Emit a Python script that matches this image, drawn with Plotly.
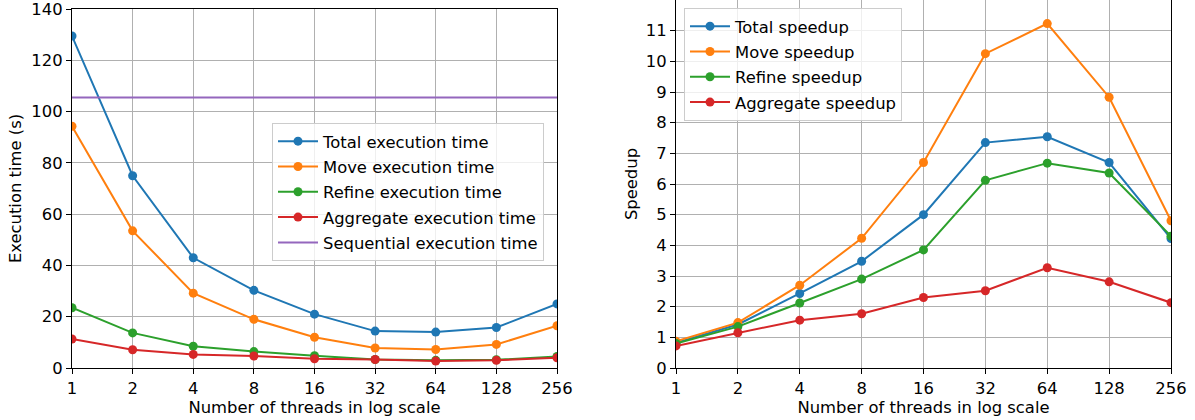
import math
import plotly.graph_objects as go

# Thread counts (log2 spaced)
threads = [1, 2, 4, 8, 16, 32, 64, 128, 256]
thread_labels = ["1", "2", "4", "8", "16", "32", "64", "128", "256"]

# Execution times in seconds
total_time = [129.5, 75.0, 43.0, 30.3, 21.0, 14.4, 14.0, 15.8, 25.0]
move_time = [94.3, 53.5, 29.2, 19.0, 12.0, 7.8, 7.2, 9.2, 16.5]
refine_time = [23.5, 13.7, 8.5, 6.4, 4.8, 3.3, 3.0, 3.2, 4.5]
aggregate_time = [11.3, 7.1, 5.3, 4.7, 3.6, 3.3, 2.7, 3.0, 4.0]
sequential_time = [105.5] * len(threads)

# Speedups relative to the sequential run
total_speedup = [0.82, 1.42, 2.43, 3.48, 5.0, 7.35, 7.54, 6.7, 4.22]
move_speedup = [0.87, 1.48, 2.7, 4.23, 6.7, 10.25, 11.23, 8.83, 4.8]
refine_speedup = [0.8, 1.35, 2.12, 2.9, 3.85, 6.12, 6.68, 6.36, 4.3]
aggregate_speedup = [0.72, 1.15, 1.56, 1.77, 2.3, 2.52, 3.27, 2.81, 2.13]

time_ticks = [0, 20, 40, 60, 80, 100, 120, 140]
speedup_ticks = list(range(0, 12))

BLUE, ORANGE, GREEN, RED, PURPLE = "#1f77b4", "#ff7f0e", "#2ca02c", "#d62728", "#9467bd"
FONT = "DejaVu Sans"
FS = 16.4
W, H = 1195, 420

fig = go.Figure()


def add_line(x, y, name, color, xa, ya, legend, markers=True):
    fig.add_trace(go.Scatter(
        x=x, y=y, name=name,
        mode="lines+markers" if markers else "lines",
        line=dict(color=color, width=2),
        marker=dict(size=9, color=color),
        xaxis=xa, yaxis=ya, legend=legend, legendgroup=name,
    ))


add_line(threads, total_time, "Total execution time", BLUE, "x", "y", "legend")
add_line(threads, move_time, "Move execution time", ORANGE, "x", "y", "legend")
add_line(threads, refine_time, "Refine execution time", GREEN, "x", "y", "legend")
add_line(threads, aggregate_time, "Aggregate execution time", RED, "x", "y", "legend")
add_line(threads, sequential_time, "Sequential execution time", PURPLE, "x", "y", "legend", markers=False)

add_line(threads, total_speedup, "Total speedup", BLUE, "x2", "y2", "legend2")
add_line(threads, move_speedup, "Move speedup", ORANGE, "x2", "y2", "legend2")
add_line(threads, refine_speedup, "Refine speedup", GREEN, "x2", "y2", "legend2")
add_line(threads, aggregate_speedup, "Aggregate speedup", RED, "x2", "y2", "legend2")

text_font = dict(family=FONT, size=FS, color="black")

axis_common = dict(
    automargin=False,
    showline=True, linecolor="black", linewidth=1.1, mirror=True,
    ticks="outside", ticklen=5, tickwidth=1.1, tickcolor="black",
    showgrid=True, gridcolor="#b0b0b0", gridwidth=1.1,
    zeroline=False,
    tickfont=text_font,
    ticklabeloverflow="allow",
)

xaxis_common = dict(
    axis_common, type="log", range=[0, math.log10(256)],
    tickvals=threads, ticktext=thread_labels,
    title=dict(text="Number of threads in log scale", font=text_font, standoff=1),
)

legend_common = dict(
    xanchor="left", yanchor="top",
    bgcolor="rgba(255,255,255,0.8)", bordercolor="#cccccc", borderwidth=1,
    font=text_font,
    tracegroupgap=1, itemwidth=40,
)

fig.update_layout(
    width=W, height=H,
    margin=dict(l=0, r=0, t=0, b=0),
    paper_bgcolor="white", plot_bgcolor="white",
    font=text_font,
    showlegend=True,
    xaxis=dict(xaxis_common, domain=[72 / W, 557 / W], anchor="y"),
    yaxis=dict(axis_common, domain=[52 / H, 411 / H], anchor="x",
               range=[0, 140.05], tickvals=time_ticks,
               title=dict(text="Execution time (s)", font=text_font, standoff=5)),
    xaxis2=dict(xaxis_common, domain=[676 / W, 1171 / W], anchor="y2"),
    yaxis2=dict(axis_common, domain=[52 / H, 1.0], anchor="x2",
                range=[0, 12.0], tickvals=speedup_ticks,
                title=dict(text="Speedup", font=text_font, standoff=4)),
    legend=dict(legend_common, x=272 / W, y=1 - 123 / H),
    legend2=dict(legend_common, x=684 / W, y=1 - 8 / H),
)

fig.write_html("out.html")
